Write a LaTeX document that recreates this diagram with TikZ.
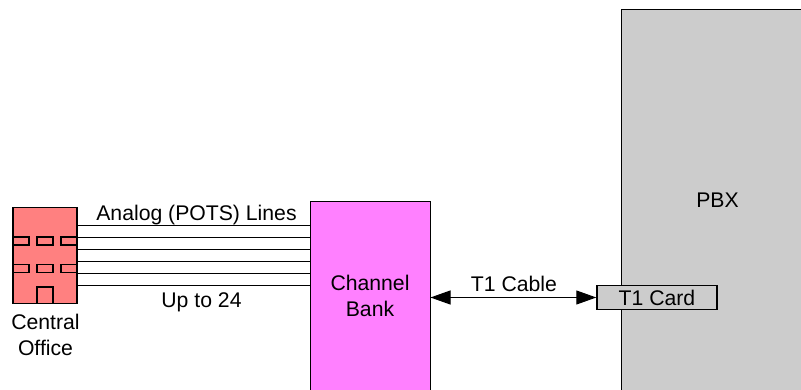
\documentclass[tikz,border=0pt]{standalone}
\usepackage{fontspec}
\setmainfont{Liberation Sans}
\usepackage{xcolor}
\usepackage{tikz}
\usetikzlibrary{arrows.meta}
\definecolor{OfficeRed}{RGB}{255, 128, 128}
\definecolor{BankPink}{RGB}{255, 128, 255}
\definecolor{PbxGrey}{RGB}{204, 204, 204}
\tikzset{
  boxed/.style={draw=black, line width=1pt, inner sep=0pt, align=center, font=\fontsize{21.2}{26}\selectfont},
  heavybox/.style={boxed, line width=1.4pt},
  windowbox/.style={heavybox, fill=OfficeRed, minimum width=16pt, minimum height=8pt},
  label/.style={inner sep=0pt, align=center, anchor=base, font=\fontsize{21.2}{26}\selectfont},
}

\begin{document}
\begin{tikzpicture}[x=1pt, y=-1pt]
    \clip (0,0) rectangle (801,389);
    \node[boxed, fill=PbxGrey, minimum width=192pt, minimum height=381.5pt] (pbx) at (717.5,200.25) {PBX};
    \node[boxed, fill=BankPink, minimum width=120pt, minimum height=189.5pt] (bank) at (370,296.25) {Channel\\Bank};
    \node[heavybox, fill=PbxGrey, minimum width=120pt, minimum height=24pt] (card) at (657,297.5) {T1 Card};
    \node[heavybox, fill=OfficeRed, minimum width=64pt, minimum height=96pt] (office) at (45,255.5) {};
    \foreach \wx/\wy/\wname in {21/241/wa, 45/241/wb, 69/241/wc, 21/268.5/wd, 45/268.5/we, 69/268.5/wf} {
      \node[windowbox] (\wname) at (\wx,\wy) {};
    }
    \node[heavybox, fill=OfficeRed, minimum width=16pt, minimum height=16.5pt] (door) at (45,295.25) {};
    \foreach \ly in {225,237,249,261,273,285} {
      \draw[line width=1pt] (office.east |- 0,\ly) -- (bank.west |- 0,\ly);
    }
    \draw[line width=1pt, {Triangle[length=20pt, width=14pt]}-{Triangle[length=20pt, width=14pt]}] (bank.east |- card.west) -- (card.west);
    \node[label] (analog) at (196.5,220) {Analog (POTS) Lines};
    \node[label] (upto) at (201.5,307) {Up to 24};
    \node[label] (cable) at (514,291.5) {T1 Cable};
    \node[label] (central) at (45.5,355) {Central\\Office};
  \end{tikzpicture}
\end{document}
